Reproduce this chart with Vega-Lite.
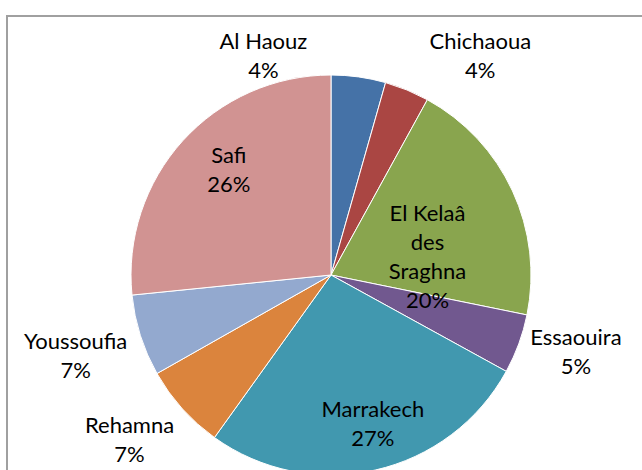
{
  "$schema": "https://vega.github.io/schema/vega-lite/v6.json",
  "width": 648,
  "height": 518,
  "autosize": "none",
  "padding": {"left": 7, "top": 16, "right": 0, "bottom": 0},
  "background": "white",
  "config": {
    "view": {"stroke": "#a0a0a0", "strokeWidth": 2},
    "text": {"font": "Lato", "fontSize": 22, "color": "#000000", "lineBreak": "\n", "lineHeight": 29}
  },
  "data": {
    "values": [
      {"i": 1, "name": "Al Haouz", "value": 4.4, "label": "Al Haouz\n4%"},
      {"i": 2, "name": "Chichaoua", "value": 3.6, "label": "Chichaoua\n4%"},
      {"i": 3, "name": "El Kelaâ des Sraghna", "value": 20.2, "label": "El Kelaâ\ndes\nSraghna\n20%"},
      {"i": 4, "name": "Essaouira", "value": 4.8, "label": "Essaouira\n5%"},
      {"i": 5, "name": "Marrakech", "value": 26.9, "label": "Marrakech\n27%"},
      {"i": 6, "name": "Rehamna", "value": 6.9, "label": "Rehamna\n7%"},
      {"i": 7, "name": "Youssoufia", "value": 6.6, "label": "Youssoufia\n7%"},
      {"i": 8, "name": "Safi", "value": 26.6, "label": "Safi\n26%"}
    ]
  },
  "transform": [
    {"stack": "value", "groupby": [], "sort": [{"field": "i", "order": "ascending"}], "as": ["v0", "v1"]},
    {"calculate": "(datum.v0 + datum.v1) / 2", "as": "mid"}
  ],
  "layer": [
    {
      "transform": [{"filter": "datum.i == 1"}],
      "mark": {"type": "rect", "fill": null, "stroke": "#a0a0a0", "strokeWidth": 2},
      "encoding": {}
    },
    {
      "mark": {"type": "arc", "outerRadius": 200, "stroke": "#ffffff", "strokeWidth": 1},
      "encoding": {
        "theta": {"field": "v0", "type": "quantitative", "scale": {"domain": [0, 100]}},
        "theta2": {"field": "v1"},
        "color": {
          "field": "name",
          "type": "nominal",
          "legend": null,
          "scale": {
            "domain": ["Al Haouz", "Chichaoua", "El Kelaâ des Sraghna", "Essaouira", "Marrakech", "Rehamna", "Youssoufia", "Safi"],
            "range": ["#4572a7", "#aa4643", "#89a54e", "#71588f", "#4198af", "#db843d", "#93a9cf", "#d19392"]
          }
        }
      }
    },
    {
      "transform": [{"filter": "datum.name == 'Safi'"}],
      "mark": {"type": "text", "radius": 146, "thetaOffset": 0.06, "dy": -14.5, "align": "center", "baseline": "middle"},
      "encoding": {
        "theta": {"field": "mid", "type": "quantitative", "scale": {"domain": [0, 100]}},
        "text": {"field": "label"}
      }
    },
    {
      "transform": [{"filter": "datum.name == 'Marrakech'"}],
      "mark": {"type": "text", "radius": 155, "thetaOffset": -0.05, "dy": -14.5, "align": "center", "baseline": "middle"},
      "encoding": {
        "theta": {"field": "mid", "type": "quantitative", "scale": {"domain": [0, 100]}},
        "text": {"field": "label"}
      }
    },
    {
      "transform": [{"filter": "datum.name == 'El Kelaâ des Sraghna'"}],
      "mark": {"type": "text", "radius": 98, "thetaOffset": 0.257, "dy": -43.5, "align": "center", "baseline": "middle"},
      "encoding": {
        "theta": {"field": "mid", "type": "quantitative", "scale": {"domain": [0, 100]}},
        "text": {"field": "label"}
      }
    },
    {
      "transform": [{"filter": "datum.name == 'Essaouira'"}],
      "mark": {"type": "text", "radius": 257, "thetaOffset": -0.044, "dy": -14.5, "align": "center", "baseline": "middle"},
      "encoding": {
        "theta": {"field": "mid", "type": "quantitative", "scale": {"domain": [0, 100]}},
        "text": {"field": "label"}
      }
    },
    {
      "transform": [{"filter": "datum.name == 'Rehamna'"}],
      "mark": {"type": "text", "radius": 261, "thetaOffset": 0.043, "dy": -14.5, "align": "center", "baseline": "middle"},
      "encoding": {
        "theta": {"field": "mid", "type": "quantitative", "scale": {"domain": [0, 100]}},
        "text": {"field": "label"}
      }
    },
    {
      "transform": [{"filter": "datum.name == 'Youssoufia'"}],
      "mark": {"type": "text", "radius": 268, "dy": -14.5, "align": "center", "baseline": "middle"},
      "encoding": {
        "theta": {"field": "mid", "type": "quantitative", "scale": {"domain": [0, 100]}},
        "text": {"field": "label"}
      }
    },
    {
      "transform": [{"filter": "datum.name == 'Al Haouz'"}],
      "mark": {"type": "text", "radius": 229, "thetaOffset": -0.438, "dy": -14.5, "align": "center", "baseline": "middle"},
      "encoding": {
        "theta": {"field": "mid", "type": "quantitative", "scale": {"domain": [0, 100]}},
        "text": {"field": "label"}
      }
    },
    {
      "transform": [{"filter": "datum.name == 'Chichaoua'"}],
      "mark": {"type": "text", "radius": 265, "thetaOffset": 0.209, "dy": -14.5, "align": "center", "baseline": "middle"},
      "encoding": {
        "theta": {"field": "mid", "type": "quantitative", "scale": {"domain": [0, 100]}},
        "text": {"field": "label"}
      }
    }
  ]
}
